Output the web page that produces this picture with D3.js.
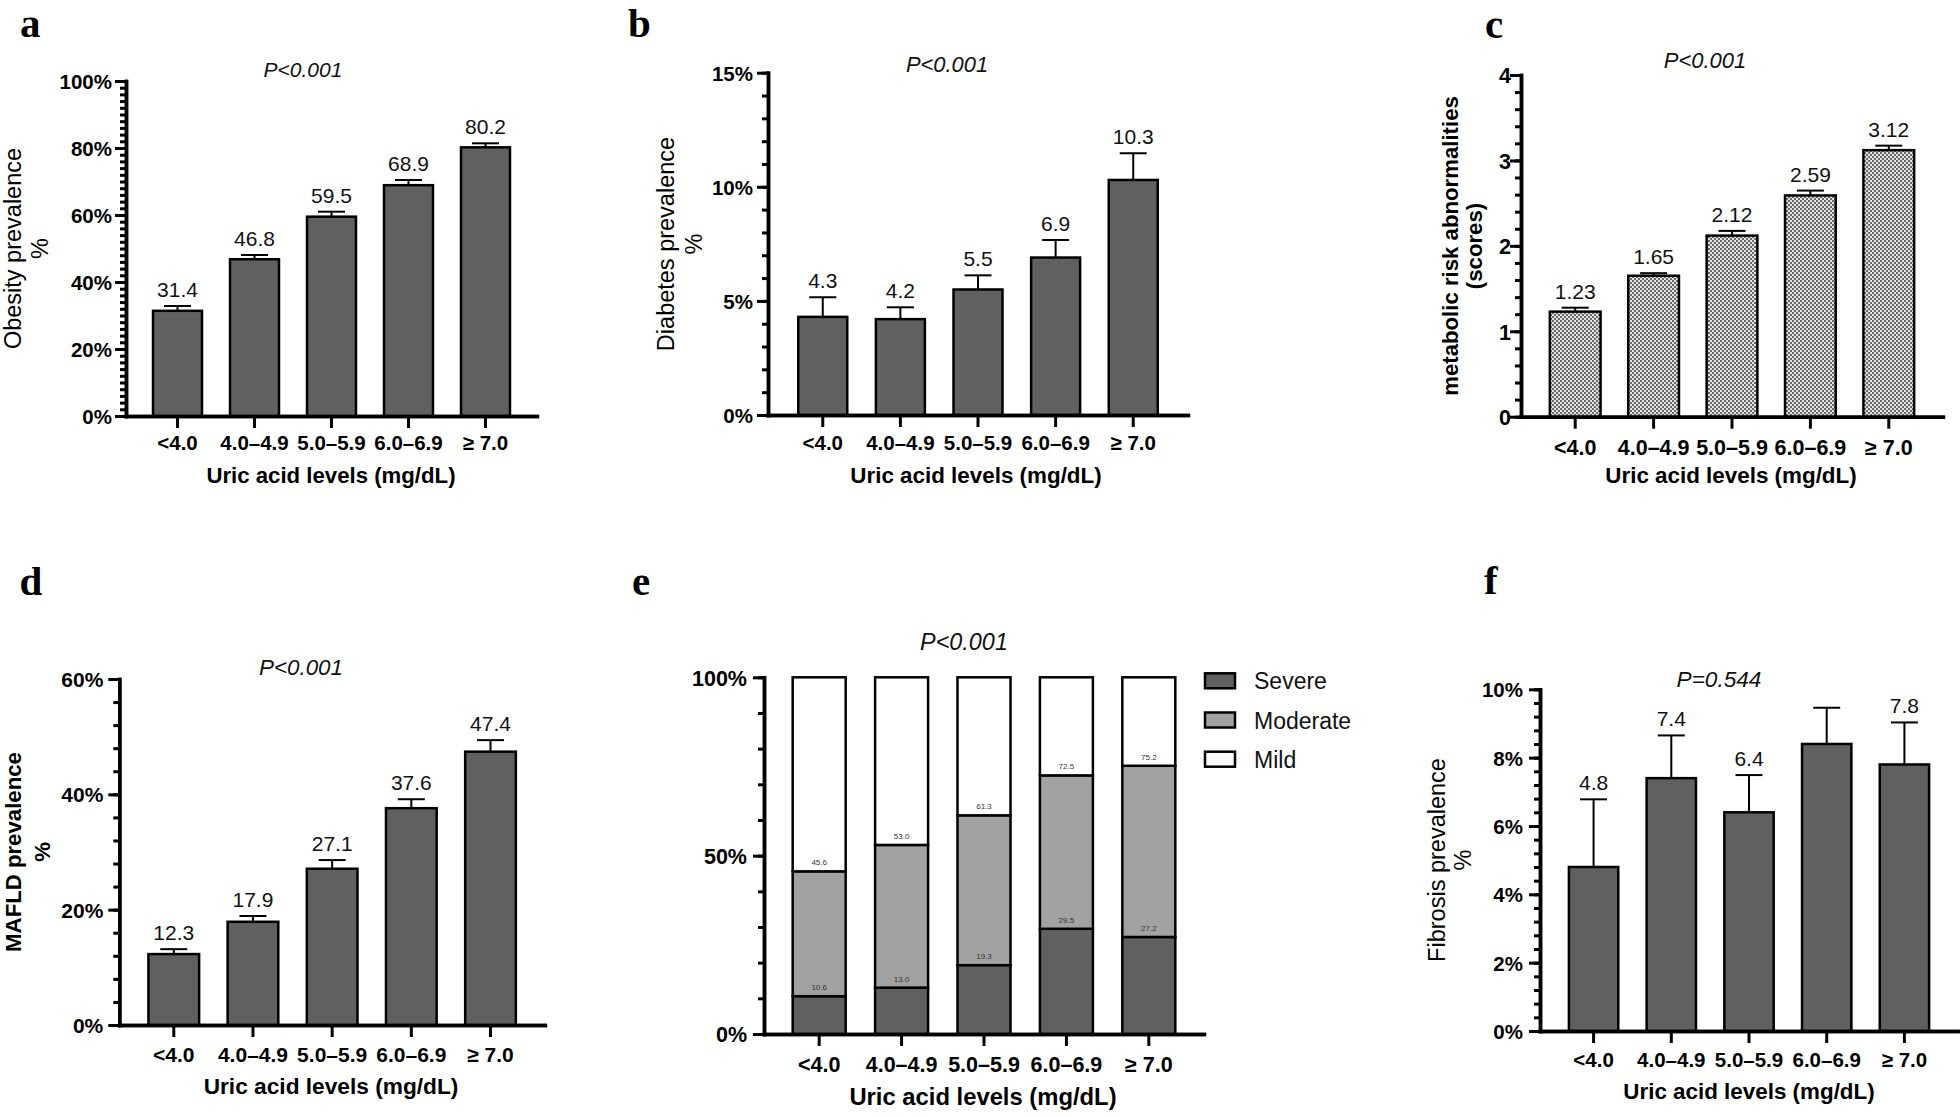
<!DOCTYPE html>
<html><head><meta charset="utf-8">
<script src="https://cdn.jsdelivr.net/npm/d3@7"></script>
<style>
html,body{margin:0;padding:0;background:#fff;}
svg{display:block;}
</style></head><body>
<svg id="chart" width="1960" height="1117"></svg>
<script>
// ---------------- DATA ----------------
const categories = ["<4.0", "4.0\u20134.9", "5.0\u20135.9", "6.0\u20136.9", "\u2265 7.0"];

const obesityValues = [31.4, 46.8, 59.5, 68.9, 80.2];
const obesityErrors = [1.44, 1.26, 1.49, 1.55, 1.20];
const obesityLabels = ["31.4", "46.8", "59.5", "68.9", "80.2"];
const obesityTicks = [0, 20, 40, 60, 80, 100];

const diabetesValues = [4.3, 4.2, 5.5, 6.9, 10.3];
const diabetesErrors = [0.86, 0.52, 0.62, 0.77, 1.17];
const diabetesLabels = ["4.3", "4.2", "5.5", "6.9", "10.3"];
const diabetesTicks = [0, 5, 10, 15];

const metabolicValues = [1.23, 1.65, 2.12, 2.59, 3.12];
const metabolicErrors = [0.046, 0.03, 0.055, 0.057, 0.053];
const metabolicLabels = ["1.23", "1.65", "2.12", "2.59", "3.12"];
const metabolicTicks = [0, 1, 2, 3, 4];

const mafldValues = [12.3, 17.9, 27.1, 37.6, 47.4];
const mafldErrors = [0.85, 1.0, 1.5, 1.55, 2.0];
const mafldLabels = ["12.3", "17.9", "27.1", "37.6", "47.4"];
const mafldTicks = [0, 20, 40, 60];

const severityNames = ["Severe", "Moderate", "Mild"];
const severeValues = [10.6, 13.0, 19.3, 29.5, 27.2];
const moderateValues = [35.0, 40.0, 42.0, 43.0, 48.0];
const mildValues = [54.4, 47.0, 38.7, 27.5, 24.8];
const severityTicks = [0, 50, 100];

const fibrosisValues = [4.8, 7.4, 6.4, 8.4, 7.8];
const fibrosisErrors = [1.98, 1.25, 1.09, 1.06, 1.23];
const fibrosisLabels = ["4.8", "7.4", "6.4", "", "7.8"];
const fibrosisTicks = [0, 2, 4, 6, 8, 10];

const pTexts = ["P<0.001", "P<0.001", "P<0.001", "P<0.001", "P<0.001", "P=0.544"];
const xTitleText = "Uric acid levels (mg/dL)";

// ---------------- DRAWING ----------------
const FONT = '"Liberation Sans", Arial, Helvetica, sans-serif';
const svg = d3.select("#chart");
svg.append("rect").attr("width", 1960).attr("height", 1117).attr("fill", "#fff");

const defs = svg.append("defs");
const pat = defs.append("pattern").attr("id", "checker")
  .attr("patternUnits", "userSpaceOnUse").attr("width", 4).attr("height", 4);
pat.append("rect").attr("width", 4).attr("height", 4).attr("fill", "#e2e2e2");
pat.append("rect").attr("width", 2).attr("height", 2).attr("fill", "#6a6a6a");
pat.append("rect").attr("x", 2).attr("y", 2).attr("width", 2).attr("height", 2).attr("fill", "#6a6a6a");

const BAR_FILL = "#606060";

function styleAxis(g, fs) {
  g.attr("font-size", null).attr("font-family", null);
  g.select(".domain").attr("stroke", "#000").attr("stroke-width", 3.5).attr("stroke-linecap", "square");
  g.selectAll(".tick line").attr("stroke", "#000").attr("stroke-width", 3);
  g.selectAll(".tick text").attr("fill", "#000").style("font-family", FONT)
    .style("font-weight", "bold").style("font-size", fs + "px");
}

function frame(cfg) {
  const g = svg.append("g");
  const x = d3.scaleBand().domain(categories).range(cfg.xRange)
    .paddingInner(cfg.pi).paddingOuter(cfg.po);
  const y = d3.scaleLinear().domain([0, cfg.max]).range(cfg.yRange);
  const x0 = cfg.xRange[0], y0 = cfg.yRange[0];

  // minor ticks
  const minors = d3.range(0, cfg.max + cfg.minor / 2, cfg.minor);
  const gMin = g.append("g").attr("transform", `translate(${x0},0)`)
    .call(d3.axisLeft(y).tickValues(minors).tickSize(6).tickSizeOuter(0).tickFormat(""));
  styleAxis(gMin, cfg.tickFs);
  // major ticks
  const gMaj = g.append("g").attr("transform", `translate(${x0},0)`)
    .call(d3.axisLeft(y).tickValues(cfg.ticks).tickSize(11).tickSizeOuter(0)
      .tickPadding(cfg.yPad).tickFormat(cfg.fmt));
  styleAxis(gMaj, cfg.tickFs);
  gMaj.selectAll(".tick text").attr("dy", "0.36em");

  // x axis
  const xPad = (cfg.xLabelBase - y0) - 12 - 0.71 * cfg.tickFs;
  const gx = g.append("g").attr("transform", `translate(0,${y0})`)
    .call(d3.axisBottom(x).tickSize(12).tickSizeOuter(0).tickPadding(xPad));
  styleAxis(gx, cfg.tickFs);

  // panel letter
  g.append("text").attr("x", cfg.letter[0]).attr("y", cfg.letter[1]).text(cfg.letterText)
    .style("font-family", '"Liberation Serif", "Times New Roman", serif')
    .style("font-weight", "bold").style("font-size", "41px");

  // P text
  g.append("text").attr("x", cfg.p[0]).attr("y", cfg.p[1]).attr("text-anchor", "middle")
    .text(cfg.pText).style("font-family", FONT).style("font-style", "italic")
    .style("font-size", cfg.pFs + "px").attr("fill", "#111");

  // x title
  g.append("text").attr("x", cfg.xTitle[0]).attr("y", cfg.xTitle[1]).attr("text-anchor", "middle")
    .text(xTitleText).style("font-family", FONT).style("font-weight", "bold")
    .style("font-size", cfg.xTitleFs + "px");

  // y title
  if (cfg.yTitle) {
    cfg.yTitle.forEach((t, i) => {
      g.append("text").attr("transform", `translate(${cfg.yTitleX[i]},${cfg.yMid}) rotate(-90)`)
        .attr("text-anchor", "middle").text(t).style("font-family", FONT)
        .style("font-weight", cfg.yTitleWeight).style("font-size", cfg.yTitleFs + "px");
    });
  }
  return { g, x, y };
}

function drawBarPanel(cfg) {
  const { g, x, y } = frame(cfg);
  const y0 = cfg.yRange[0];
  const bw = x.bandwidth();
  const rows = categories.map((c, i) => ({ c, v: cfg.values[i], e: cfg.errors[i], l: cfg.labels[i] }));

  const eg = g.append("g");
  rows.forEach(d => {
    const cx = x(d.c) + bw / 2;
    eg.append("line").attr("x1", cx).attr("x2", cx).attr("y1", y(d.v)).attr("y2", y(d.v + d.e))
      .attr("stroke", "#000").attr("stroke-width", 2);
    eg.append("line").attr("x1", cx - 13.5).attr("x2", cx + 13.5).attr("y1", y(d.v + d.e)).attr("y2", y(d.v + d.e))
      .attr("stroke", "#000").attr("stroke-width", 2);
  });

  g.append("g").selectAll("rect").data(rows).join("rect")
    .attr("x", d => x(d.c)).attr("width", bw)
    .attr("y", d => y(d.v)).attr("height", d => y0 - y(d.v))
    .attr("fill", cfg.fill).attr("stroke", "#000").attr("stroke-width", 2.5);

  g.append("g").selectAll("text").data(rows).join("text")
    .attr("x", d => x(d.c) + bw / 2).attr("y", d => y(d.v + d.e) - 9)
    .attr("text-anchor", "middle").text(d => d.l)
    .style("font-family", FONT).style("font-size", "21px").attr("fill", "#111");

  g.append("line").attr("x1", cfg.xRange[0]).attr("x2", cfg.xRange[1])
    .attr("y1", y0 + 0.5).attr("y2", y0 + 0.5).attr("stroke", "#000").attr("stroke-width", 3.5)
    .attr("stroke-linecap", "square");
}

const pct = d => d + "%";

drawBarPanel({
  values: obesityValues, errors: obesityErrors, labels: obesityLabels, ticks: obesityTicks,
  max: 100, minor: 2, fmt: pct, fill: BAR_FILL,
  xRange: [126, 537], pi: 0.364, po: 0.351, yRange: [416, 81],
  letterText: "a", letter: [20, 37], pText: pTexts[0], p: [303, 77], pFs: 21,
  yTitle: ["Obesity prevalence", "%"], yTitleX: [21, 47.5], yTitleWeight: "normal", yTitleFs: 23.5, yMid: 248.5,
  xTitle: [331, 483], xTitleFs: 22.2, tickFs: 20.5, xLabelBase: 450, yPad: 3
});

drawBarPanel({
  values: diabetesValues, errors: diabetesErrors, labels: diabetesLabels, ticks: diabetesTicks,
  max: 15, minor: 1, fmt: pct, fill: BAR_FILL,
  xRange: [768, 1188], pi: 0.369, po: 0.39, yRange: [415, 72.7],
  letterText: "b", letter: [628, 37], pText: pTexts[1], p: [947, 72], pFs: 21.9,
  yTitle: ["Diabetes prevalence", "%"], yTitleX: [674, 702], yTitleWeight: "normal", yTitleFs: 23.5, yMid: 244,
  xTitle: [976, 483], xTitleFs: 22.4, tickFs: 20.5, xLabelBase: 450, yPad: 4
});

drawBarPanel({
  values: metabolicValues, errors: metabolicErrors, labels: metabolicLabels, ticks: metabolicTicks,
  max: 4, minor: 0.2, fmt: d => d, fill: "url(#checker)",
  xRange: [1521, 1943], pi: 0.353, po: 0.368, yRange: [416.7, 75],
  letterText: "c", letter: [1485, 38], pText: pTexts[2], p: [1705, 68], pFs: 22,
  yTitle: ["metabolic risk abnormalities", "(scores)"], yTitleX: [1458, 1482], yTitleWeight: "bold", yTitleFs: 22.2, yMid: 246,
  xTitle: [1731, 483], xTitleFs: 22.4, tickFs: 21.5, xLabelBase: 455, yPad: -1
});

drawBarPanel({
  values: mafldValues, errors: mafldErrors, labels: mafldLabels, ticks: mafldTicks,
  max: 60, minor: 4, fmt: pct, fill: BAR_FILL,
  xRange: [119.3, 545], pi: 0.36, po: 0.368, yRange: [1025, 679],
  letterText: "d", letter: [19.5, 595], pText: pTexts[3], p: [301, 675], pFs: 22.4,
  yTitle: ["MAFLD prevalence", "%"], yTitleX: [21, 50], yTitleWeight: "bold", yTitleFs: 22.2, yMid: 852,
  xTitle: [331, 1094], xTitleFs: 22.7, tickFs: 21, xLabelBase: 1062, yPad: 5
});

drawBarPanel({
  values: fibrosisValues, errors: fibrosisErrors, labels: fibrosisLabels, ticks: fibrosisTicks,
  max: 10, minor: 0.4, fmt: pct, fill: BAR_FILL,
  xRange: [1540, 1958], pi: 0.365, po: 0.372, yRange: [1031, 689.3],
  letterText: "f", letter: [1484, 594], pText: pTexts[5], p: [1719, 687], pFs: 22.6,
  yTitle: ["Fibrosis prevalence", "%"], yTitleX: [1445, 1471], yTitleWeight: "normal", yTitleFs: 23.5, yMid: 860,
  xTitle: [1749, 1099], xTitleFs: 22.4, tickFs: 20.5, xLabelBase: 1067, yPad: 6
});

// ---------- panel e: stacked ----------
(function () {
  const cfg = {
    ticks: severityTicks, max: 100, minor: 10, fmt: pct,
    xRange: [764, 1204], pi: 0.357, po: 0.348, yRange: [1034, 677.3],
    letterText: "e", letter: [632, 595], pText: pTexts[4], p: [964, 650], pFs: 23.4,
    yTitle: null, xTitle: [983, 1105], xTitleFs: 23.8, tickFs: 21.5, xLabelBase: 1072, yPad: 6
  };
  const { g, x, y } = frame(cfg);
  const bw = x.bandwidth();
  const rows = categories.map((c, i) => ({ c, Severe: severeValues[i], Moderate: moderateValues[i], Mild: mildValues[i] }));
  const series = d3.stack().keys(severityNames)(rows);
  const colors = { Severe: "#606060", Moderate: "#a2a2a2", Mild: "#ffffff" };

  series.forEach(s => {
    g.append("g").selectAll("rect").data(s).join("rect")
      .attr("x", d => x(d.data.c)).attr("width", bw)
      .attr("y", d => y(d[1])).attr("height", d => y(d[0]) - y(d[1]))
      .attr("fill", colors[s.key]).attr("stroke", "#000").attr("stroke-width", 2.5);
  });
  series.slice(0, 2).forEach(s => {
    g.append("g").selectAll("text").data(s).join("text")
      .attr("x", d => x(d.data.c) + bw / 2).attr("y", d => y(d[1]) - 6)
      .attr("text-anchor", "middle").text(d => d3.format(".1f")(d[1]))
      .style("font-family", FONT).style("font-size", "8px").attr("fill", "#333");
  });
  g.append("line").attr("x1", cfg.xRange[0]).attr("x2", cfg.xRange[1])
    .attr("y1", cfg.yRange[0] + 0.5).attr("y2", cfg.yRange[0] + 0.5)
    .attr("stroke", "#000").attr("stroke-width", 3.5).attr("stroke-linecap", "square");

  const leg = g.append("g");
  const legY = d3.scalePoint().domain(severityNames).range([673.3, 751.7]);
  severityNames.forEach(k => {
    leg.append("rect").attr("x", 1205).attr("y", legY(k)).attr("width", 30).attr("height", 15)
      .attr("fill", colors[k]).attr("stroke", "#000").attr("stroke-width", 2.5);
    leg.append("text").attr("x", 1254).attr("y", legY(k) + 16).text(k)
      .style("font-family", FONT).style("font-size", "23px").attr("fill", "#111");
  });
})();
</script>
</body></html>
